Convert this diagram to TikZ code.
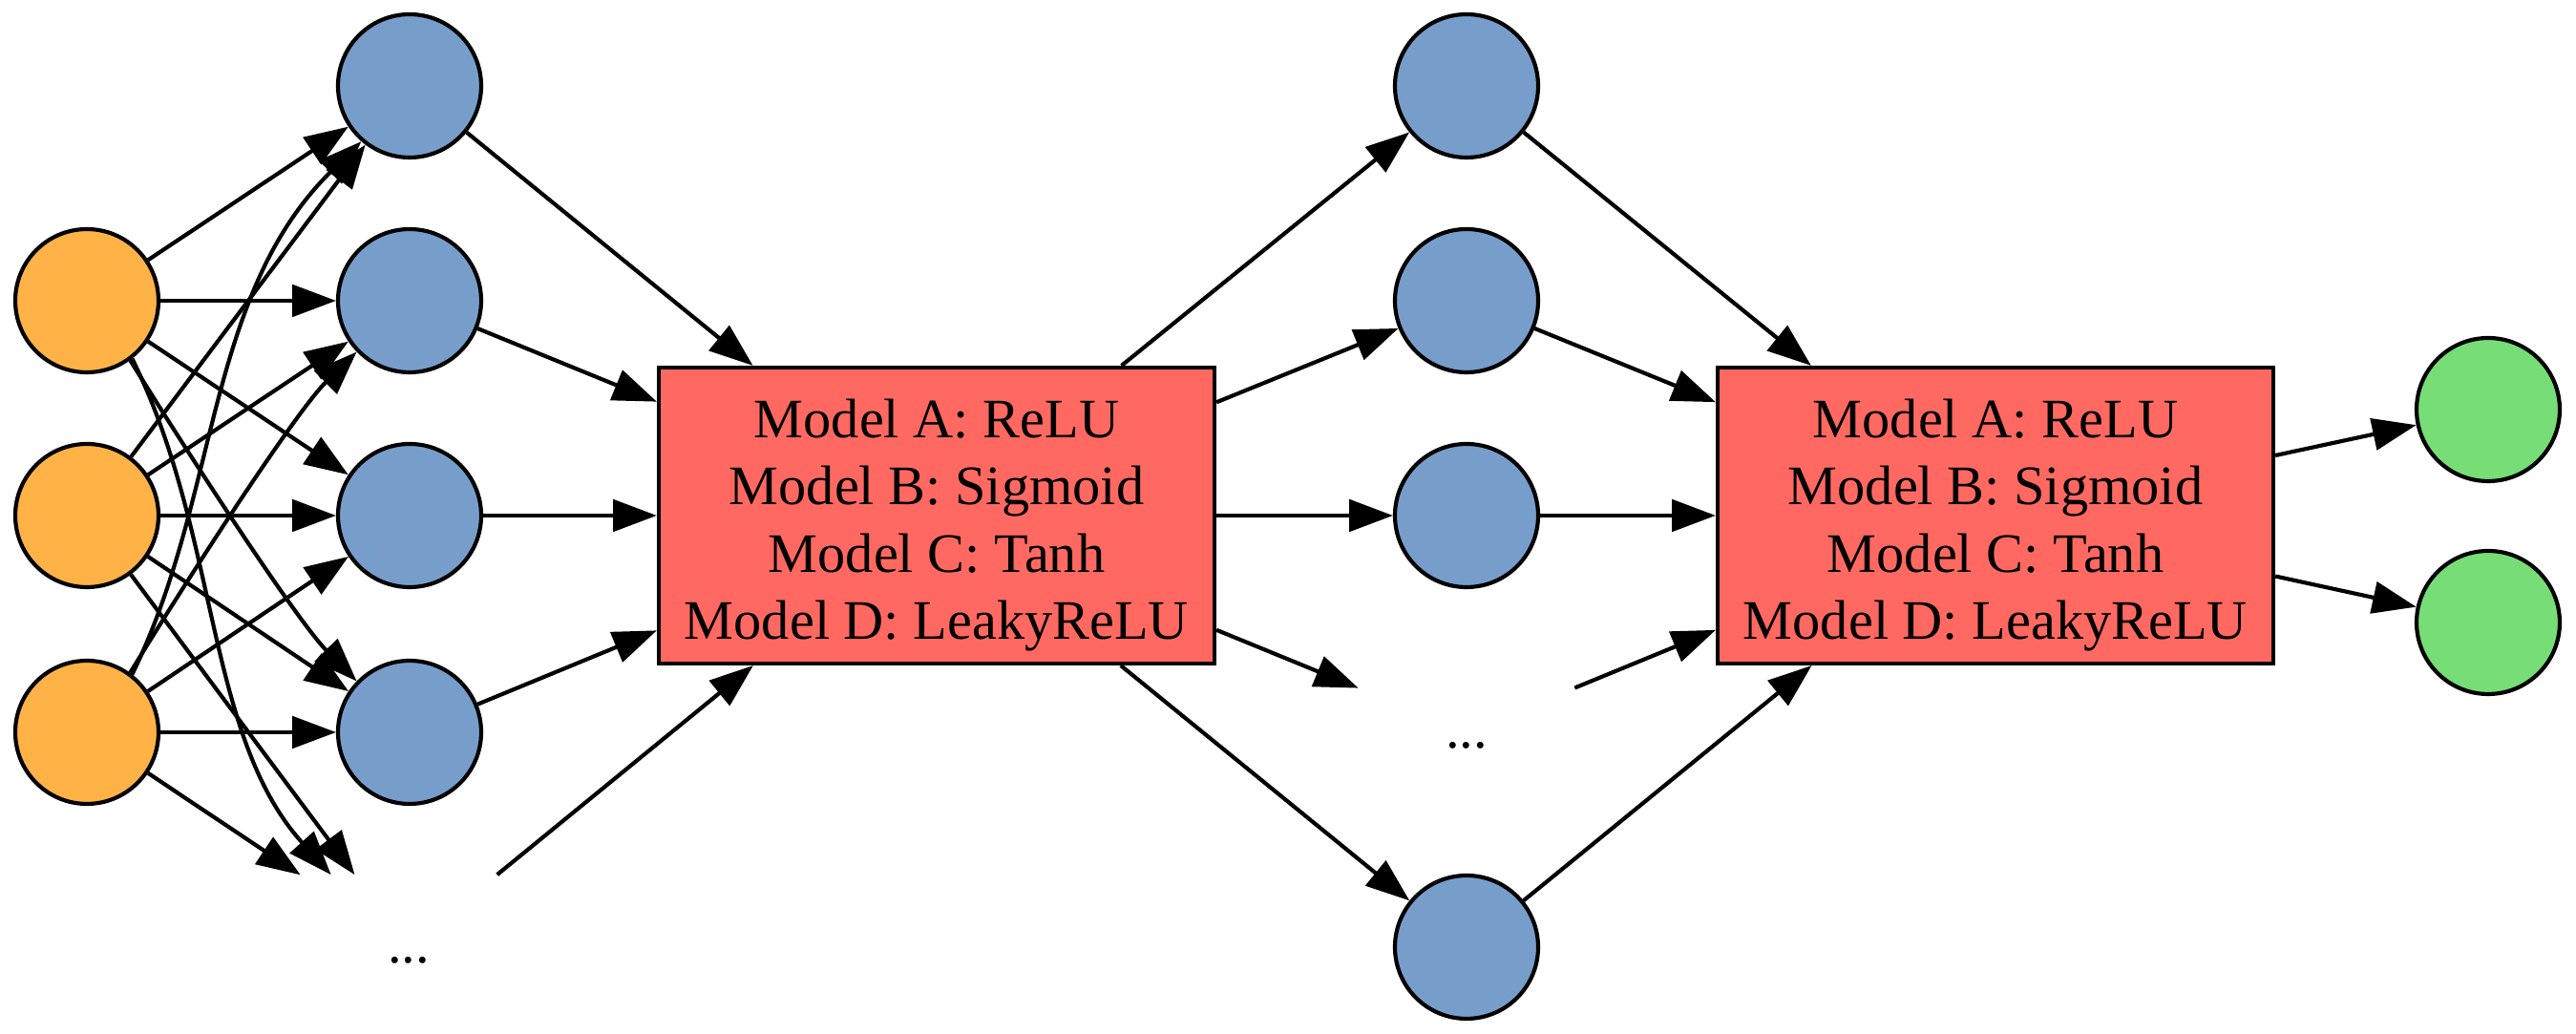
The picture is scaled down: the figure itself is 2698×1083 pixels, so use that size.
\documentclass[tikz,border=0pt]{standalone}
\usepackage{fontspec}
\setmainfont{Liberation Serif}
\usetikzlibrary{arrows.meta}
\definecolor{porange}{HTML}{FFB347}
\definecolor{pblue}{HTML}{779ECB}
\definecolor{pred}{HTML}{FF6961}
\definecolor{pgreen}{HTML}{77DD77}
\begin{document}
\begin{tikzpicture}[x=0.24pt,y=-0.24pt,
  neuron/.style={circle,draw,line width=1pt,minimum size=36pt,inner sep=0pt},
  inp/.style={neuron,fill=porange},
  hid/.style={neuron,fill=pblue},
  outn/.style={neuron,fill=pgreen},
  actbox/.style={rectangle,draw,line width=1pt,fill=pred,minimum width=139.7pt,minimum height=74.4pt,align=center,inner sep=0pt,font=\fontsize{14}{16.9}\selectfont},
  dotsnode/.style={rectangle,minimum width=54pt,minimum height=36pt,inner sep=0pt,text height=10pt,text depth=2pt,font=\fontsize{14}{16.8}\selectfont},
  conn/.style={line width=1pt,-{Triangle[length=11pt,width=8pt]}}]
\useasboundingbox (0,0) rectangle (2698,1083);
% input layer
\node[inp] (in1) at (91,315) {};
\node[inp] (in2) at (91,540) {};
\node[inp] (in3) at (91,767) {};
% hidden layer 1
\node[hid] (h1) at (429,90) {};
\node[hid] (h2) at (429,315) {};
\node[hid] (h3) at (429,540) {};
\node[hid] (h4) at (429,767) {};
\node[dotsnode] (d1) at (428,992) {...};
% activation box 1
\node[actbox] (b1) at (981,540) {\rule{0pt}{14.5pt}Model A: ReLU\\Model B: Sigmoid\\Model C: Tanh\\Model D: LeakyReLU};
% hidden layer 2
\node[hid] (g1) at (1536,90) {};
\node[hid] (g2) at (1536,315) {};
\node[hid] (g3) at (1536,540) {};
\node[dotsnode] (d2) at (1536,767) {...};
\node[hid] (g5) at (1536,992) {};
% activation box 2
\node[actbox] (b2) at (2090,540) {\rule{0pt}{14.5pt}Model A: ReLU\\Model B: Sigmoid\\Model C: Tanh\\Model D: LeakyReLU};
% outputs
\node[outn] (o1) at (2606,429) {};
\node[outn] (o2) at (2606,652) {};
% input -> hidden 1
\draw[conn] (in1) -- (h1);
\draw[conn] (in1) -- (h2);
\draw[conn] (in1) -- (h3);
\draw[conn] (in1.-54) .. controls (207,491) and (312,651) .. (h4.136);
\draw[conn] (in1.-52) .. controls (230,560) and (215,770) .. (d1.137);
\draw[conn] (in2) -- (h1);
\draw[conn] (in2) -- (h2);
\draw[conn] (in2) -- (h3);
\draw[conn] (in2) -- (h4);
\draw[conn] (in2) -- (d1);
\draw[conn] (in3.52) .. controls (230,520) and (215,310) .. (h1.229);
\draw[conn] (in3.54) .. controls (207,589) and (312,429) .. (h2.224);
\draw[conn] (in3) -- (h3);
\draw[conn] (in3) -- (h4);
\draw[conn] (in3) -- (d1);
% hidden 1 -> box 1
\foreach \n in {h1,h2,h3,h4,d1} \draw[conn] (\n) -- (b1);
% box 1 -> hidden 2
\foreach \n in {g1,g2,g3,d2,g5} \draw[conn] (b1) -- (\n);
% hidden 2 -> box 2
\foreach \n in {g1,g2,g3,d2,g5} \draw[conn] (\n) -- (b2);
% box 2 -> outputs
\draw[conn] (b2) -- (o1);
\draw[conn] (b2) -- (o2);
\end{tikzpicture}
\end{document}
